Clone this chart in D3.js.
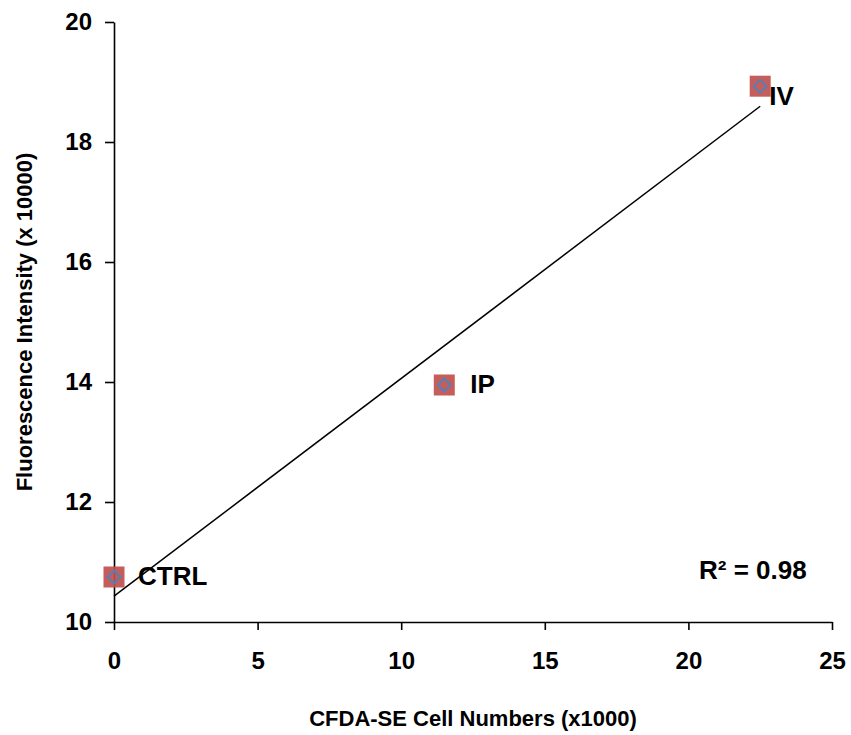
<!DOCTYPE html>
<html><head><meta charset="utf-8">
<script src="https://cdn.jsdelivr.net/npm/d3@7"></script>
<style>
body{margin:0;background:#fff;}
text{font-family:"Liberation Sans",Arial,sans-serif;font-weight:bold;}
</style></head>
<body>
<svg id="c" width="851" height="735"></svg>
<script>
const labels = ["CTRL", "IP", "IV"];
const xValues = [0, 11.5, 22.5];
const yValues = [10.75, 13.95, 18.93];
const xTicks = [0, 5, 10, 15, 20, 25];
const yTicks = [10, 12, 14, 16, 18, 20];
const r2Text = "R² = 0.98";
const xTitle = "CFDA-SE Cell Numbers (x1000)";
const yTitle = "Fluorescence Intensity (x 10000)";

const svg = d3.select("#c");
const x = d3.scaleLinear().domain([0, 25]).range([114, 832]);
const y = d3.scaleLinear().domain([10, 20]).range([622, 22]);

// axes
const xAxis = svg.append("g").attr("transform", "translate(0,622)")
  .call(d3.axisBottom(x).tickValues(xTicks).tickSize(8).tickSizeOuter(0).tickPadding(22));
const yAxis = svg.append("g").attr("transform", "translate(114,0)")
  .call(d3.axisLeft(y).tickValues(yTicks).tickSize(9).tickSizeOuter(0).tickPadding(13));
[xAxis, yAxis].forEach(g => {
  g.select(".domain").attr("stroke", "#000").attr("stroke-width", 1.6);
  g.selectAll(".tick line").attr("stroke", "#000").attr("stroke-width", 1.6);
  g.selectAll("text").attr("font-size", 24).attr("fill", "#000")
    .style("font-family", "'Liberation Sans', Arial, sans-serif").style("font-weight", "bold");
});

// regression
const n = xValues.length;
const mx = d3.mean(xValues), my = d3.mean(yValues);
let sxy = 0, sxx = 0;
for (let i = 0; i < n; i++) { sxy += (xValues[i]-mx)*(yValues[i]-my); sxx += (xValues[i]-mx)**2; }
const slope = sxy / sxx, intercept = my - slope * mx;
const xMin = d3.min(xValues), xMax = d3.max(xValues);
svg.append("line")
  .attr("x1", x(xMin)).attr("y1", y(intercept + slope * xMin))
  .attr("x2", x(xMax)).attr("y2", y(intercept + slope * xMax))
  .attr("stroke", "#000").attr("stroke-width", 1.5);

// markers
const pts = svg.append("g").selectAll("g").data(xValues.map((v, i) => ({x: v, y: yValues[i]})))
  .join("g").attr("transform", d => `translate(${x(d.x)},${y(d.y)})`);
pts.append("rect").attr("x", -10.5).attr("y", -10.5).attr("width", 21).attr("height", 21)
  .attr("fill", "#C0504D").attr("opacity", 0.92);
pts.append("path").attr("d", "M0,-6.5L6.5,0L0,6.5L-6.5,0Z").attr("fill", "none")
  .attr("stroke", "#4F81BD").attr("stroke-width", 1.8);

// point labels
const labelOffsets = [[24, 8], [26, 8], [9, 19]];
svg.append("g").selectAll("text").data(xValues.map((v, i) => ({x: v, y: yValues[i], l: labels[i], o: labelOffsets[i]})))
  .join("text")
  .attr("x", d => x(d.x) + d.o[0]).attr("y", d => y(d.y) + d.o[1])
  .attr("font-size", 26).attr("fill", "#000").text(d => d.l);

svg.append("text").attr("x", 699).attr("y", 579).attr("font-size", 26).text(r2Text);

// axis titles
svg.append("text").attr("x", 473).attr("y", 726).attr("text-anchor", "middle")
  .attr("font-size", 22).text(xTitle);
svg.append("text").attr("transform", "translate(32,322) rotate(-90)").attr("text-anchor", "middle")
  .attr("font-size", 22).text(yTitle);
</script>
</body></html>
